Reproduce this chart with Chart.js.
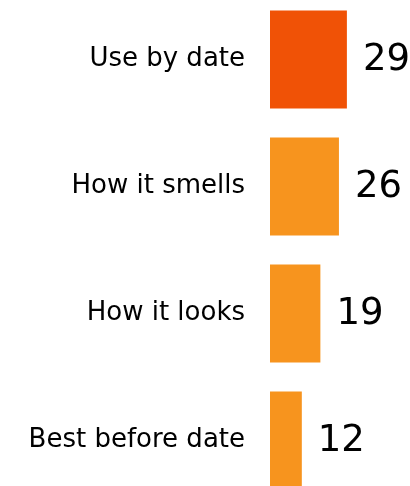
<!DOCTYPE html>
<html>
<head>
<meta charset="utf-8">
<script src="https://cdn.jsdelivr.net/npm/chart.js@4/dist/chart.umd.min.js"></script>
<style>
html,body{margin:0;padding:0;background:#fff;overflow:hidden;width:410px;height:486px;}
#c{position:absolute;left:0;top:-4px;display:block;}
</style>
</head>
<body>
<canvas id="c" width="410" height="508" style="width:410px;height:508px"></canvas>
<script>
const categories = ["Use by date", "How it smells", "How it looks", "Best before date"];
const values = [29, 26, 19, 12];
const barColors = ["#F05206", "#F7941E", "#F7941E", "#F7941E"];

const valueLabels = {
  id: 'valueLabels',
  afterDatasetsDraw(chart) {
    const ctx = chart.ctx;
    const meta = chart.getDatasetMeta(0);
    ctx.save();
    ctx.font = '37px "DejaVu Sans"';
    ctx.fillStyle = '#000';
    ctx.textAlign = 'left';
    ctx.textBaseline = 'middle';
    meta.data.forEach((bar, i) => {
      ctx.fillText(String(values[i]), bar.x + 16, bar.y + 1);
    });
    ctx.restore();
  }
};

new Chart(document.getElementById('c'), {
  type: 'bar',
  data: {
    labels: categories,
    datasets: [{
      data: values,
      backgroundColor: barColors,
      borderWidth: 0,
      categoryPercentage: 0.77,
      barPercentage: 1.0
    }]
  },
  options: {
    indexAxis: 'y',
    responsive: false,
    maintainAspectRatio: false,
    animation: false,
    devicePixelRatio: 1,
    layout: { padding: 0 },
    plugins: { legend: { display: false }, tooltip: { enabled: false } },
    scales: {
      x: { display: false, min: 0, max: 52.8 },
      y: {
        grid: { display: false, drawTicks: false },
        border: { display: false },
        ticks: {
          color: '#000',
          padding: 25,
          font: { family: 'DejaVu Sans', size: 26 }
        },
        afterFit(scale) {
          scale.width = 270;
          scale.paddingTop = 0;
          scale.paddingBottom = 0;
        }
      }
    }
  },
  plugins: [valueLabels]
});
</script>
</body>
</html>
